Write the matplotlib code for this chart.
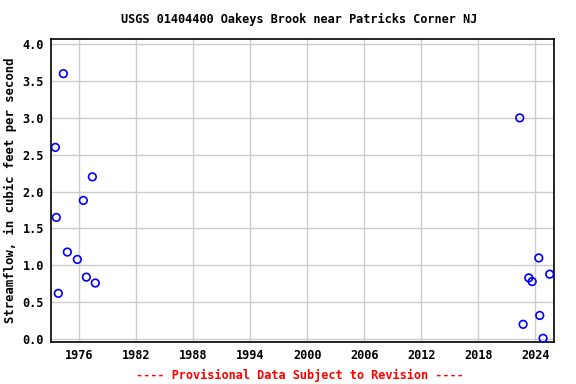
import matplotlib
matplotlib.use("Agg")
import matplotlib.pyplot as plt

# Field measurements (decimal year, streamflow cfs)
YEARS = [1973.51, 1973.61, 1973.82, 1974.35, 1974.77, 1975.82, 1976.45, 1976.77,
         1977.40, 1977.71, 2022.35, 2022.70, 2023.30, 2023.65, 2024.35, 2024.45,
         2024.80, 2025.50]
FLOWS = [2.60, 1.65, 0.62, 3.60, 1.18, 1.08, 1.88, 0.84,
         2.20, 0.76, 3.00, 0.20, 0.83, 0.78, 1.10, 0.32,
         0.01, 0.88]
X_TICKS = [1976, 1982, 1988, 1994, 2000, 2006, 2012, 2018, 2024]
Y_TICKS = [0.0, 0.5, 1.0, 1.5, 2.0, 2.5, 3.0, 3.5, 4.0]

TITLE = "USGS 01404400 Oakeys Brook near Patricks Corner NJ"
Y_LABEL = "Streamflow, in cubic feet per second"
FOOTER = "---- Provisional Data Subject to Revision ----"

FONT = {"family": "DejaVu Sans Mono", "weight": "bold"}

fig = plt.figure(figsize=(5.76, 3.84), dpi=100)
ax = fig.add_axes([51 / 576, 42 / 384, 503 / 576, 303 / 384])

ax.scatter(YEARS, FLOWS, s=30, facecolors="none", edgecolors="#0000ff",
           linewidths=1.2, zorder=3)

ax.set_xlim(1973.05, 2025.95)
ax.set_ylim(-0.04, 4.07)
ax.set_xticks(X_TICKS)
ax.set_yticks(Y_TICKS)
ax.set_yticklabels([f"{v:.1f}" for v in Y_TICKS])
ax.grid(True, color="#cccccc", linewidth=1.0)
ax.set_axisbelow(True)
ax.tick_params(length=0, pad=5, labelsize=8.6)
for lab in ax.get_xticklabels() + ax.get_yticklabels():
    lab.set_fontfamily(FONT["family"])
    lab.set_fontweight("bold")
for sp in ax.spines.values():
    sp.set_linewidth(1.2)

ax.set_ylabel(Y_LABEL, fontsize=8.8, labelpad=4, **FONT)
fig.text(0.52, 0.95, TITLE, ha="center", va="center", fontsize=8.6, **FONT)
fig.text(0.52, 0.023, FOOTER, ha="center", va="center", fontsize=8.6,
         color="#ff0000", **FONT)

fig.savefig("out.png", dpi=100)
